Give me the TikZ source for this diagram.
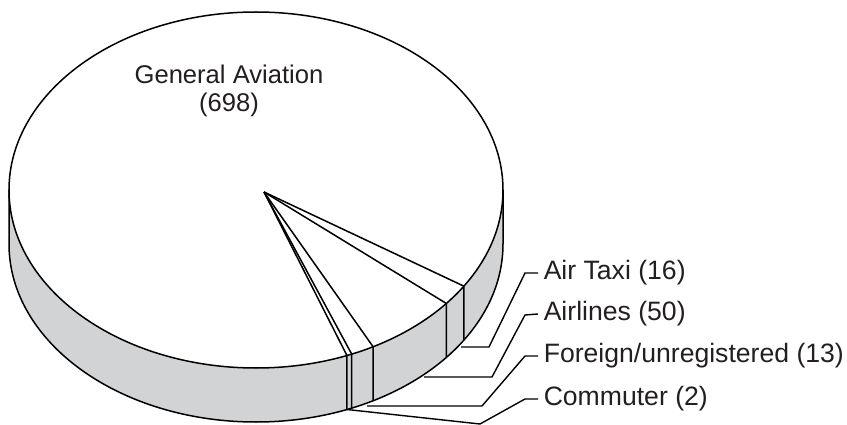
\documentclass[tikz,border=0pt]{standalone}
\usepackage{fontspec}
\setmainfont{Liberation Sans}
\definecolor{sidegray}{RGB}{209,211,212}
\definecolor{txt}{RGB}{35,31,32}
\begin{document}
\begin{tikzpicture}[x=1pt,y=-1pt,line width=1.5pt,
  lbl/.style={anchor=west,inner sep=0pt,text=txt,font=\fontsize{26.6}{28}\selectfont},
  leader/.style={line width=1.4pt},
  slice/.style={line width=1.5pt}]
\useasboundingbox (0,0) rectangle (847,425);
% side band
\fill[sidegray] (9,190) arc[start angle=180,end angle=0,x radius=247,y radius=178]
  -- (503,244) arc[start angle=0,end angle=180,x radius=247,y radius=178] -- cycle;
\draw (9,190) -- (9,244) arc[start angle=180,end angle=0,x radius=247,y radius=178] -- (503,190);
% top
\draw[fill=white] (256,190) ellipse[x radius=247,y radius=178];
% apex and rim points
\coordinate (apex) at (264,192);
\foreach \n/\t in {1/32.7,2/39.6,3/61.7,4/67.2,5/68.4}{
  \coordinate (r\n) at ({256+247*cos(\t)},{190+178*sin(\t)});
  \coordinate (b\n) at ({256+247*cos(\t)},{244+178*sin(\t)});
  \draw[slice] (apex) -- (r\n) -- (b\n);
}
% labels
\node[lbl,font=\fontsize{25.6}{27.5}\selectfont] (ga) at (229,91) [anchor=center,align=center] {General Aviation\\(698)};
\node[lbl] (taxi) at (543,273) {Air Taxi (16)};
\node[lbl] (air) at (543,314) {Airlines (50)};
\node[lbl] (for) at (543,356) {Foreign/unregistered (13)};
\node[lbl] (com) at (543,399) {Commuter (2)};
% leaders
\coordinate (s1) at (461,347);
\coordinate (s2) at (424,377);
\coordinate (s3) at (367,406);
\coordinate (s4) at (b5);
\draw[leader] (s1) -- (489,347) -- (525,273) -- ([xshift=-5pt]taxi.west);
\draw[leader] (s2) -- (492,377) -- (525,315) -- ([xshift=-5pt]air.west);
\draw[leader] (s3) -- (482,406) -- (525,356) -- ([xshift=-5pt]for.west);
\draw[leader] (s4) -- (480,424) -- (525,399) -- ([xshift=-5pt]com.west);
\end{tikzpicture}
\end{document}
